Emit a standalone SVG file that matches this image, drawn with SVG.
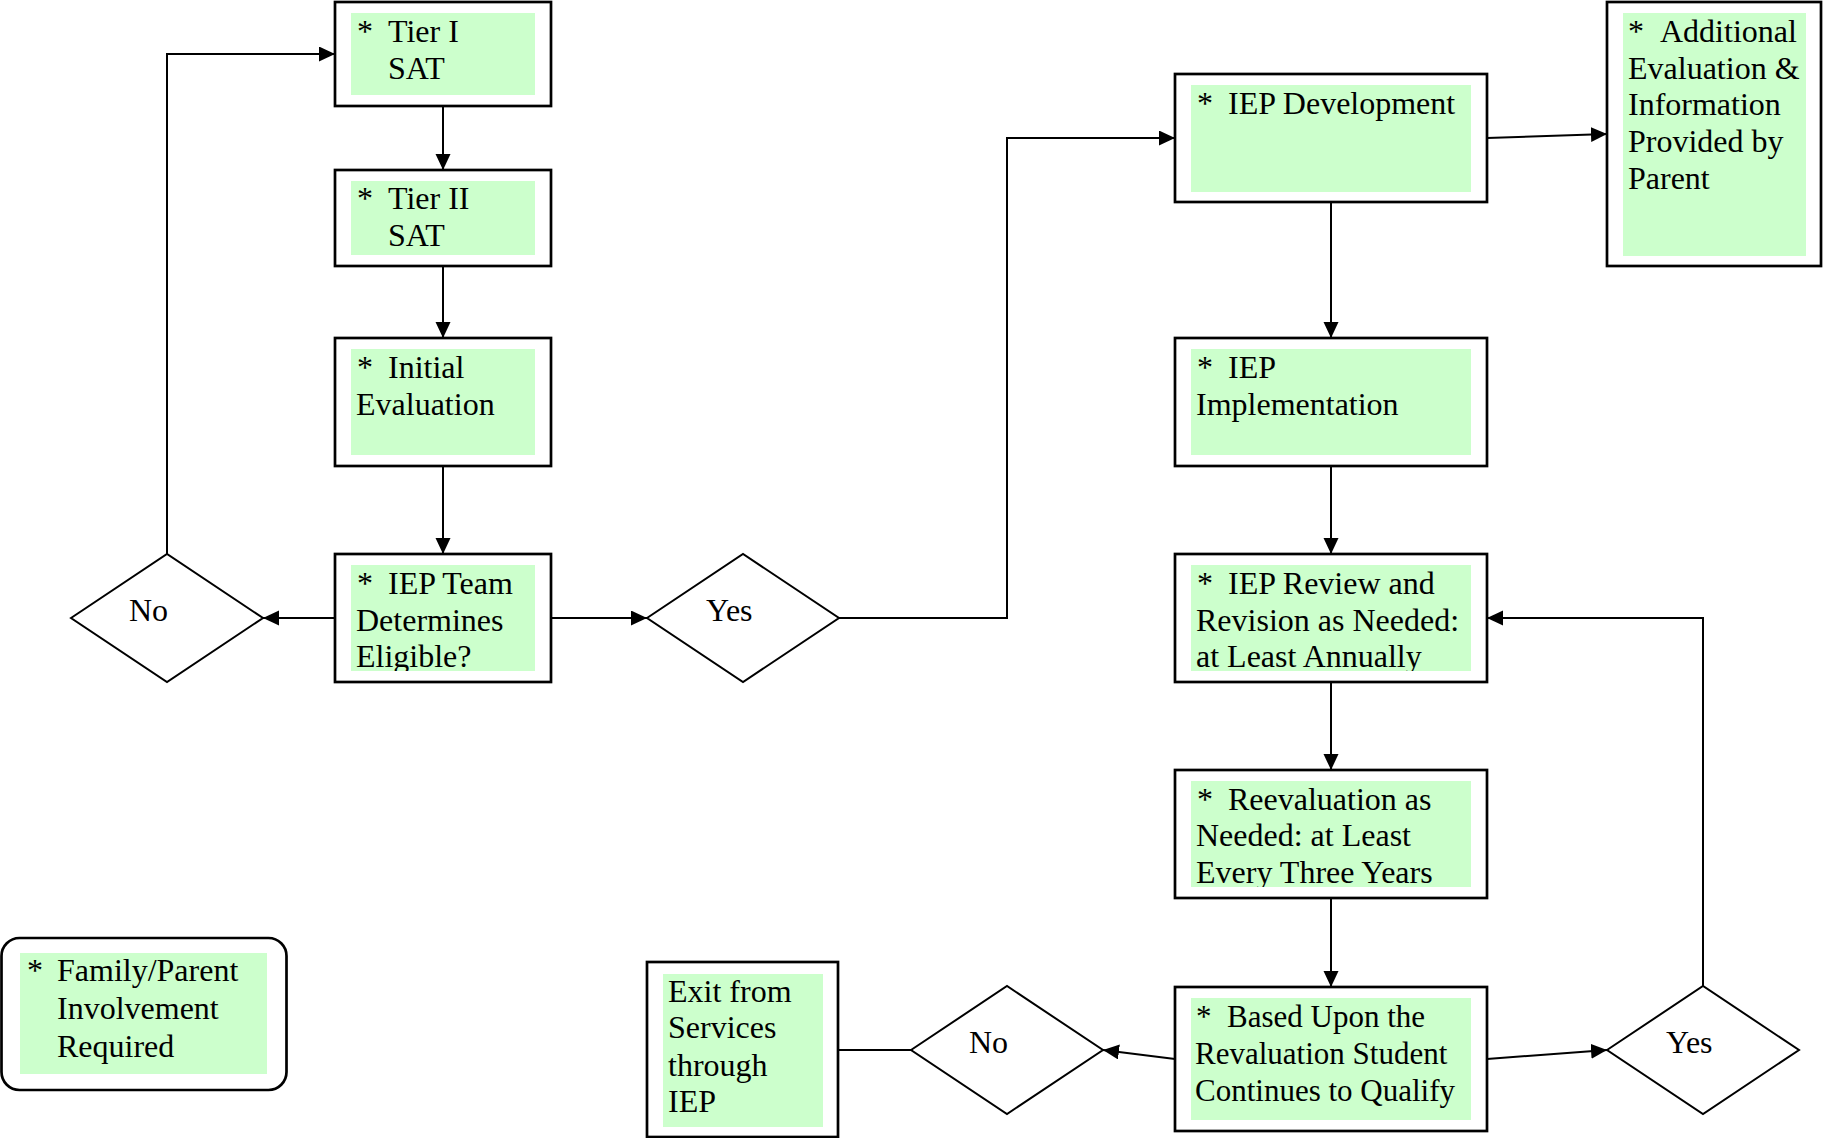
<svg xmlns="http://www.w3.org/2000/svg" width="1823" height="1138" viewBox="0 0 1823 1138">
<style>
.box{fill:#fff;stroke:#000;stroke-width:2.7}
.grn{fill:#ccffcc;stroke:none}
.dia{fill:#fff;stroke:#000;stroke-width:2}
.t{font-family:"Liberation Serif","Times New Roman",serif;font-size:32px;fill:#000}
.con{fill:none;stroke:#000;stroke-width:2}
.arr{marker-end:url(#ah)}
</style>
<defs>
<marker id="ah" markerUnits="userSpaceOnUse" markerWidth="17" markerHeight="16" refX="16" refY="7.5" orient="auto">
<path d="M0,0 L16,7.5 L0,15 Z" fill="#000"/>
</marker>
<clipPath id="cTeam"><rect x="351" y="565" width="184" height="106"/></clipPath>
<clipPath id="cReview"><rect x="1191" y="565" width="280" height="106"/></clipPath>
<clipPath id="cReeval"><rect x="1191" y="781" width="280" height="106"/></clipPath>
</defs>

<g id="connectors">
<path class="con arr" d="M443,106 V170"/>
<path class="con arr" d="M443,266 V338"/>
<path class="con arr" d="M443,466 V554"/>
<path class="con arr" d="M335,618 H263"/>
<path class="con arr" d="M551,618 H647"/>
<path class="con arr" d="M167,554 V54 H335"/>
<path class="con arr" d="M839,618 H1007 V138 H1175"/>
<path class="con arr" d="M1487,138 L1607,134"/>
<path class="con arr" d="M1331,202 V338"/>
<path class="con arr" d="M1331,466 V554"/>
<path class="con arr" d="M1331,682 V770"/>
<path class="con arr" d="M1331,898 V987"/>
<path class="con arr" d="M1175,1059 L1103,1050"/>
<path class="con arr" d="M1487,1059 L1607,1050"/>
<path class="con arr" d="M1703,986 V618 H1487"/>
<path class="con" d="M838,1050 H911"/>
</g>

<g id="tier1">
<rect class="box" x="335" y="2" width="216" height="104"/>
<rect class="grn" x="351" y="13" width="184" height="82"/>
<text class="t"><tspan x="357" y="42">*</tspan><tspan x="388" y="42">Tier I</tspan><tspan x="388" y="79">SAT</tspan></text>
</g>

<g id="tier2">
<rect class="box" x="335" y="170" width="216" height="96"/>
<rect class="grn" x="351" y="181" width="184" height="74"/>
<text class="t"><tspan x="357" y="209">*</tspan><tspan x="388" y="209">Tier II</tspan><tspan x="388" y="246">SAT</tspan></text>
</g>

<g id="initial">
<rect class="box" x="335" y="338" width="216" height="128"/>
<rect class="grn" x="351" y="349" width="184" height="106"/>
<text class="t"><tspan x="357" y="378">*</tspan><tspan x="388" y="378">Initial</tspan><tspan x="356" y="415">Evaluation</tspan></text>
</g>

<g id="team">
<rect class="box" x="335" y="554" width="216" height="128"/>
<rect class="grn" x="351" y="565" width="184" height="106"/>
<text class="t" clip-path="url(#cTeam)"><tspan x="357" y="594">*</tspan><tspan x="388" y="594">IEP Team</tspan><tspan x="356" y="631">Determines</tspan><tspan x="356" y="667">Eligible?</tspan></text>
</g>

<g id="no1">
<polygon class="dia" points="71,618 167,554 263,618 167,682"/>
<text class="t" x="129" y="621">No</text>
</g>

<g id="yes1">
<polygon class="dia" points="647,618 743,554 839,618 743,682"/>
<text class="t" x="706" y="621">Yes</text>
</g>

<g id="dev">
<rect class="box" x="1175" y="74" width="312" height="128"/>
<rect class="grn" x="1191" y="85" width="280" height="107"/>
<text class="t"><tspan x="1197" y="114">*</tspan><tspan x="1228" y="114">IEP Development</tspan></text>
</g>

<g id="additional">
<rect class="box" x="1607" y="2" width="214" height="264"/>
<rect class="grn" x="1623" y="13" width="183" height="243"/>
<text class="t"><tspan x="1628" y="42">*</tspan><tspan x="1660" y="42">Additional</tspan><tspan x="1628" y="79">Evaluation &amp;</tspan><tspan x="1628" y="115">Information</tspan><tspan x="1628" y="152">Provided by</tspan><tspan x="1628" y="189">Parent</tspan></text>
</g>

<g id="impl">
<rect class="box" x="1175" y="338" width="312" height="128"/>
<rect class="grn" x="1191" y="349" width="280" height="106"/>
<text class="t"><tspan x="1197" y="378">*</tspan><tspan x="1228" y="378">IEP</tspan><tspan x="1196" y="415">Implementation</tspan></text>
</g>

<g id="review">
<rect class="box" x="1175" y="554" width="312" height="128"/>
<rect class="grn" x="1191" y="565" width="280" height="106"/>
<text class="t" clip-path="url(#cReview)"><tspan x="1197" y="594">*</tspan><tspan x="1228" y="594">IEP Review and</tspan><tspan x="1196" y="631">Revision as Needed:</tspan><tspan x="1196" y="667">at Least Annually</tspan></text>
</g>

<g id="reeval">
<rect class="box" x="1175" y="770" width="312" height="128"/>
<rect class="grn" x="1191" y="781" width="280" height="106"/>
<text class="t" clip-path="url(#cReeval)"><tspan x="1197" y="810">*</tspan><tspan x="1228" y="810">Reevaluation as</tspan><tspan x="1196" y="846">Needed: at Least</tspan><tspan x="1196" y="883">Every Three Years</tspan></text>
</g>

<g id="based">
<rect class="box" x="1175" y="987" width="312" height="144"/>
<rect class="grn" x="1191" y="998" width="280" height="122"/>
<text class="t" style="font-size:31px"><tspan x="1196" y="1027">*</tspan><tspan x="1227" y="1027">Based Upon the</tspan><tspan x="1195" y="1064">Revaluation Student</tspan><tspan x="1195" y="1101">Continues to Qualify</tspan></text>
</g>

<g id="no2">
<polygon class="dia" points="911,1050 1007,986 1103,1050 1007,1114"/>
<text class="t" x="969" y="1053">No</text>
</g>

<g id="yes2">
<polygon class="dia" points="1607,1050 1703,986 1799,1050 1703,1114"/>
<text class="t" x="1666" y="1053">Yes</text>
</g>

<g id="exit">
<rect class="box" x="647" y="962" width="191" height="175"/>
<rect class="grn" x="663" y="974" width="160" height="153"/>
<text class="t"><tspan x="668" y="1002">Exit from</tspan><tspan x="668" y="1038">Services</tspan><tspan x="668" y="1076">through</tspan><tspan x="668" y="1112">IEP</tspan></text>
</g>

<g id="family">
<rect class="box" x="1.5" y="938" width="285" height="152" rx="18" ry="18"/>
<rect class="grn" x="20" y="953" width="247" height="121"/>
<text class="t"><tspan x="27" y="981">*</tspan><tspan x="57" y="981">Family/Parent</tspan><tspan x="57" y="1019">Involvement</tspan><tspan x="57" y="1057">Required</tspan></text>
</g>
</svg>
